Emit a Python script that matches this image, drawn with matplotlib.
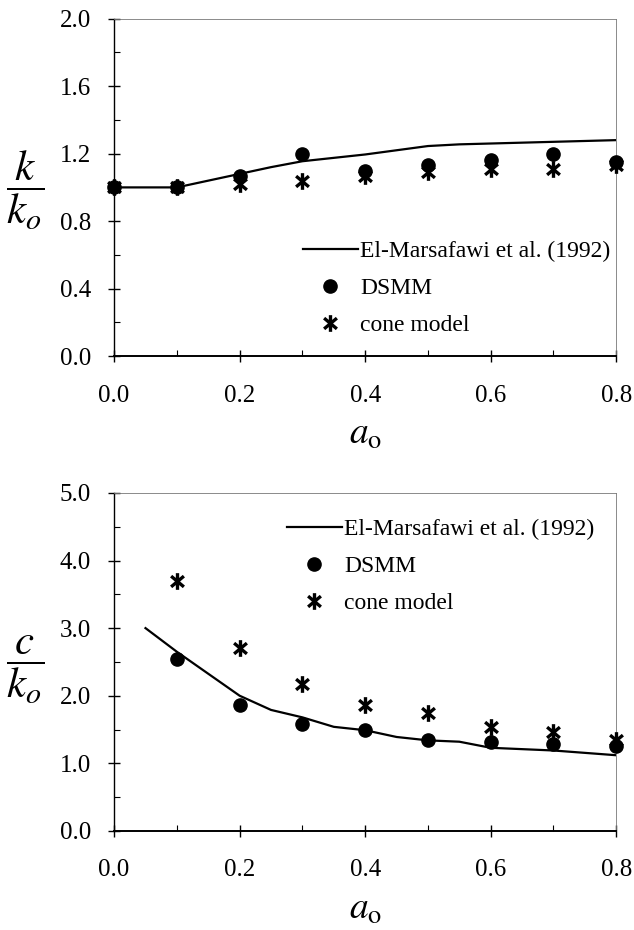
import numpy as np
import matplotlib
matplotlib.use('Agg')
from matplotlib import pyplot as plt
from matplotlib.path import Path
from matplotlib.ticker import MultipleLocator, FormatStrFormatter

plt.rcParams['font.family'] = ['Liberation Serif', 'DejaVu Serif']
plt.rcParams['mathtext.fontset'] = 'stix'

# stiffness k/ko
k_line_x = [0.0, 0.1, 0.15, 0.2, 0.25, 0.3, 0.35, 0.4, 0.45, 0.5, 0.55, 0.6, 0.7, 0.8]
k_line_y = [1.0, 1.0, 1.04, 1.08, 1.12, 1.155, 1.175, 1.195, 1.22, 1.245, 1.255, 1.26, 1.27, 1.28]
k_x = [0.0, 0.1, 0.2, 0.3, 0.4, 0.5, 0.6, 0.7, 0.8]
k_dsmm = [1.0, 1.0, 1.07, 1.20, 1.10, 1.13, 1.16, 1.20, 1.15]
k_cone = [1.0, 1.0, 1.02, 1.04, 1.07, 1.09, 1.11, 1.11, 1.13]

# damping c/ko
c_line_x = [0.05, 0.1, 0.2, 0.25, 0.3, 0.35, 0.4, 0.45, 0.5, 0.55, 0.6, 0.7, 0.8]
c_line_y = [3.0, 2.65, 2.0, 1.79, 1.68, 1.54, 1.49, 1.39, 1.34, 1.32, 1.23, 1.19, 1.12]
c_x = [0.1, 0.2, 0.3, 0.4, 0.5, 0.6, 0.7, 0.8]
c_dsmm = [2.55, 1.87, 1.58, 1.49, 1.34, 1.32, 1.29, 1.25]
c_cone = [3.7, 2.7, 2.18, 1.87, 1.75, 1.54, 1.46, 1.34]

LINE_LABEL = 'El-Marsafawi et al. (1992)'

# asterisk: an X plus a vertical bar, like the printed one
_ang = np.deg2rad([90, 270, 40, 220, 140, 320])
_v = []
_c = []
for i in range(0, 6, 2):
    _v += [(np.cos(_ang[i]), np.sin(_ang[i])), (np.cos(_ang[i + 1]), np.sin(_ang[i + 1]))]
    _c += [Path.MOVETO, Path.LINETO]
STAR = Path(_v, _c)


def style_axes(ax, ymax, ymajor, yminor, yfmt):
    ax.set_xlim(0, 0.8)
    ax.set_ylim(0, ymax)
    ax.xaxis.set_major_locator(MultipleLocator(0.2))
    ax.xaxis.set_minor_locator(MultipleLocator(0.1))
    ax.yaxis.set_major_locator(MultipleLocator(ymajor))
    ax.yaxis.set_minor_locator(MultipleLocator(yminor))
    ax.xaxis.set_major_formatter(FormatStrFormatter('%.1f'))
    ax.yaxis.set_major_formatter(FormatStrFormatter(yfmt))
    ax.tick_params(which='major', direction='inout', length=9, width=1.0,
                   labelsize=18)
    ax.tick_params(axis='x', which='major', pad=16)
    ax.tick_params(axis='y', which='major', pad=12)
    ax.tick_params(which='minor', direction='in', length=4, width=0.8)
    for s in ['top', 'right']:
        ax.spines[s].set_linewidth(0.6)
        ax.spines[s].set_color('#777777')
    ax.spines['left'].set_linewidth(1.0)
    ax.spines['bottom'].set_linewidth(1.4)
    ax.set_xlabel(r'$a_\mathrm{o}$', fontsize=27, labelpad=8)


fig = plt.figure(figsize=(6.34, 9.30), dpi=100)
ax1 = fig.add_axes([0.180, 0.617, 0.792, 0.363])
ax2 = fig.add_axes([0.180, 0.1065, 0.792, 0.3635])

for ax, lx, ly, px, pd_, pc in [(ax1, k_line_x, k_line_y, k_x, k_dsmm, k_cone),
                                (ax2, c_line_x, c_line_y, c_x, c_dsmm, c_cone)]:
    ax.plot(lx, ly, color='black', lw=1.6, label=LINE_LABEL, zorder=2)
    ax.plot(px, pd_, 'o', color='black', ms=9.5, label='DSMM', zorder=3, clip_on=False)
    ax.plot(px, pc, marker=STAR, ls='none', color='black', ms=12, mew=2.4,
            label='cone model', zorder=4, clip_on=False)

style_axes(ax1, 2.0, 0.4, 0.2, '%.1f')
style_axes(ax2, 5.0, 1.0, 0.5, '%.1f')

ax1.set_ylabel(r'$\dfrac{k}{k_o}$', fontsize=31, rotation=0, va='center', ha='center')
ax2.set_ylabel(r'$\dfrac{c}{k_o}$', fontsize=31, rotation=0, va='center', ha='center')
ax1.yaxis.set_label_coords(-0.177, 0.49)
ax2.yaxis.set_label_coords(-0.177, 0.475)

ax1.legend(loc='upper left', bbox_to_anchor=(0.358, 0.37), frameon=False,
           fontsize=17, handlelength=2.3, handletextpad=0.1, labelspacing=0.65,
           borderaxespad=0)
ax2.legend(loc='upper left', bbox_to_anchor=(0.326, 0.952), frameon=False,
           fontsize=17, handlelength=2.3, handletextpad=0.1, labelspacing=0.65,
           borderaxespad=0)

fig.savefig('out.png', dpi=100)
